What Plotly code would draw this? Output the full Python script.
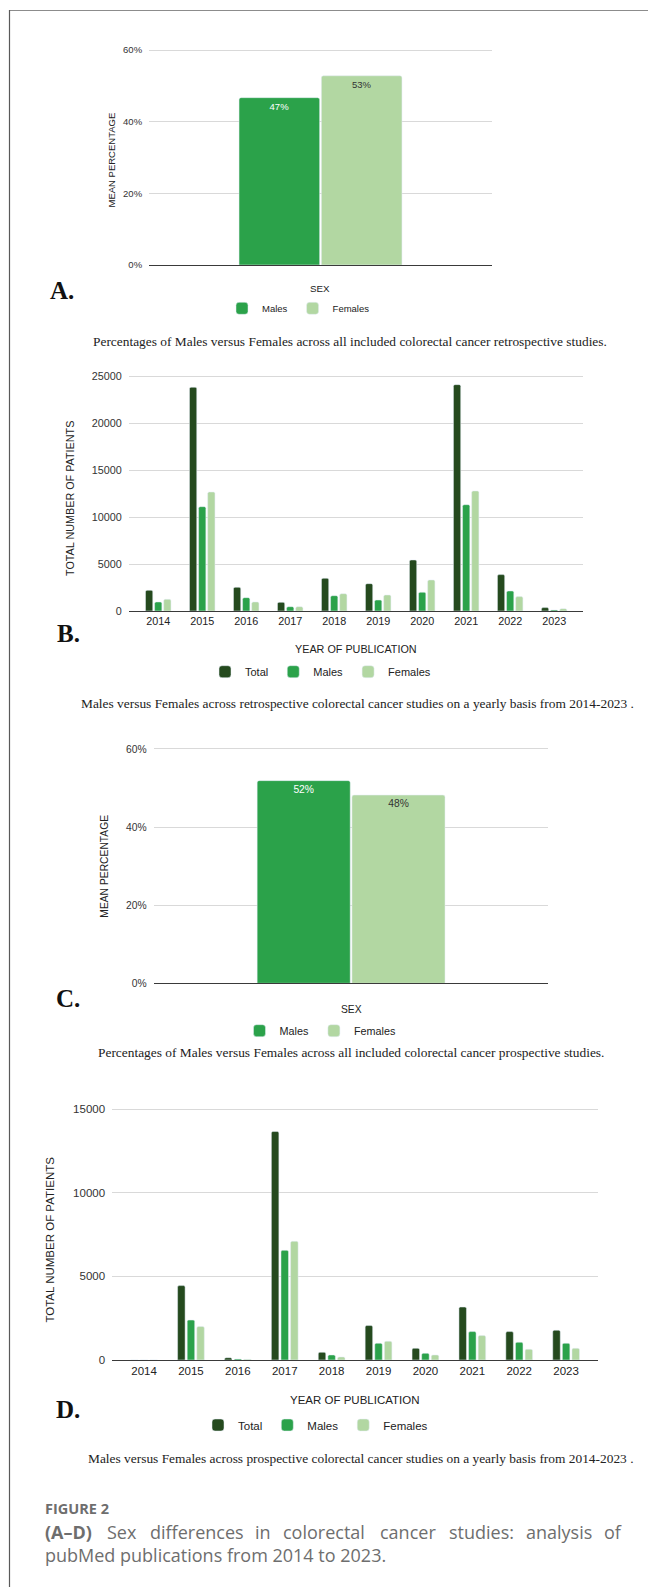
import plotly.graph_objects as go

W, H = 648, 1587

# ---------------- data ----------------
sex_label = ["SEX"]
retro_pct_males = [46.7]
retro_pct_females = [52.8]

years = ["2014", "2015", "2016", "2017", "2018", "2019", "2020", "2021", "2022", "2023"]
retro_total = [2200, 23800, 2520, 920, 3480, 2910, 5430, 24080, 3870, 360]
retro_males = [960, 11100, 1420, 460, 1630, 1170, 1990, 11310, 2130, 110]
retro_females = [1240, 12660, 960, 460, 1840, 1700, 3300, 12770, 1530, 250]

pro_pct_males = [51.9]
pro_pct_females = [48.2]

pro_total = [0, 4450, 140, 13670, 460, 2060, 700, 3170, 1700, 1780]
pro_males = [0, 2390, 60, 6560, 300, 1000, 400, 1700, 1060, 1000]
pro_females = [0, 2000, 40, 7100, 180, 1120, 300, 1460, 640, 700]

pct_ticks = [0, 20, 40, 60]
pct_ticktext = ["0%", "20%", "40%", "60%"]

C_TOTAL = "#254a1e"
C_MALE = "#2ba24a"
C_FEMALE = "#b2d7a2"
SANS = "Liberation Sans, Arial, sans-serif"
SERIF = "Liberation Serif, Times New Roman, serif"


def X(px):
    return px / W


def Y(py):
    return 1 - py / H


def top_px(p0, p1, v1, rt):
    # pixel of range top so that value v1 lands on pixel p1
    return p0 - (p0 - p1) * rt / v1


fig = go.Figure()

# ---------------- Panel A ----------------
fig.add_trace(go.Bar(x=sex_label, y=retro_pct_males, name="Males", marker=dict(color=C_MALE, cornerradius=2),
                     width=0.235, offset=-0.2375, texttemplate="%{y:.0f}%", textposition="inside",
                     insidetextanchor="end", textangle=0, constraintext="none",
                     textfont=dict(family=SANS, size=9.5, color="#ffffff"),
                     xaxis="x", yaxis="y", legend="legend"))
fig.add_trace(go.Bar(x=sex_label, y=retro_pct_females, name="Females", marker=dict(color=C_FEMALE, cornerradius=2),
                     width=0.235, offset=0.0025, texttemplate="%{y:.0f}%", textposition="inside",
                     insidetextanchor="end", textangle=0, constraintext="none",
                     textfont=dict(family=SANS, size=9.5, color="#333333"),
                     xaxis="x", yaxis="y", legend="legend"))

# ---------------- Panel B ----------------
for name, vals, col, off in [("Total", retro_total, C_TOTAL, -0.29),
                             ("Males", retro_males, C_MALE, -0.083),
                             ("Females", retro_females, C_FEMALE, 0.124)]:
    fig.add_trace(go.Bar(x=years, y=vals, name=name, marker=dict(color=col, cornerradius=1.5),
                         width=0.165, offset=off, xaxis="x2", yaxis="y2", legend="legend2"))

# ---------------- Panel C ----------------
fig.add_trace(go.Bar(x=sex_label, y=pro_pct_males, name="Males", marker=dict(color=C_MALE, cornerradius=2),
                     width=0.236, offset=-0.2376, texttemplate="%{y:.0f}%", textposition="inside",
                     insidetextanchor="end", textangle=0, constraintext="none",
                     textfont=dict(family=SANS, size=10.3, color="#ffffff"),
                     xaxis="x3", yaxis="y3", legend="legend3"))
fig.add_trace(go.Bar(x=sex_label, y=pro_pct_females, name="Females", marker=dict(color=C_FEMALE, cornerradius=2),
                     width=0.236, offset=0.0028, texttemplate="%{y:.0f}%", textposition="inside",
                     insidetextanchor="end", textangle=0, constraintext="none",
                     textfont=dict(family=SANS, size=10.3, color="#333333"),
                     xaxis="x3", yaxis="y3", legend="legend3"))

# ---------------- Panel D ----------------
for name, vals, col, off in [("Total", pro_total, C_TOTAL, -0.285),
                             ("Males", pro_males, C_MALE, -0.08),
                             ("Females", pro_females, C_FEMALE, 0.125)]:
    fig.add_trace(go.Bar(x=years, y=vals, name=name, marker=dict(color=col, cornerradius=1.5),
                         width=0.16, offset=off, xaxis="x4", yaxis="y4", legend="legend4"))


def xax(domain, rng, fs, showlabels, anchor):
    return dict(domain=domain, range=rng, type="category", showgrid=False, zeroline=False,
                showline=True, linecolor="#3a3a3a", linewidth=1.4, ticks="", anchor=anchor,
                showticklabels=showlabels, tickfont=dict(family=SANS, size=fs, color="#222222"),
                fixedrange=True, automargin=False)


def yax(domain, rng, fs, anchor, **kw):
    d = dict(domain=domain, range=rng, showgrid=True, gridcolor="#d9d9d9", gridwidth=1,
             zeroline=False, showline=False, ticks="outside", ticklen=4, tickcolor="rgba(0,0,0,0)",
             tickfont=dict(family=SANS, size=fs, color="#333333"), fixedrange=True,
             anchor=anchor, automargin=False)
    d.update(kw)
    return d


A_top = top_px(265, 50, 60, 60.6)
B_top = top_px(611, 376, 25000, 25250)
C_top = top_px(983.3, 749, 60, 60.6)
D_top = top_px(1360, 1109.3, 15000, 15150)

fig.update_layout(
    width=W, height=H, margin=dict(l=0, r=0, t=0, b=0),
    paper_bgcolor="white", plot_bgcolor="white",
    barmode="group",
    xaxis=xax([X(149), X(492)], [-0.5, 0.5], 9.5, False, "y"),
    yaxis=yax([Y(265), Y(A_top)], [0, 60.6], 9.5, "x", tickvals=pct_ticks, ticktext=pct_ticktext),
    xaxis2=xax([X(129), X(583)], [-0.665, 9.655], 10.8, True, "y2"),
    yaxis2=yax([Y(611), Y(B_top)], [0, 25250], 10.8, "x2", dtick=5000, tickformat="d"),
    xaxis3=xax([X(153.7), X(548)], [-0.5, 0.5], 10.3, False, "y3"),
    yaxis3=yax([Y(983.3), Y(C_top)], [0, 60.6], 10.3, "x3", tickvals=pct_ticks, ticktext=pct_ticktext),
    xaxis4=xax([X(112.4), X(598)], [-0.675, 9.68], 11.5, True, "y4"),
    yaxis4=yax([Y(1360), Y(D_top)], [0, 15150], 11.5, "x4", dtick=5000, tickformat="d"),
)


def leg(xpx, cy, fs):
    return dict(orientation="h", x=X(xpx), y=Y(cy), xanchor="left", yanchor="middle",
                font=dict(family=SANS, size=fs, color="#222222"), bgcolor="rgba(0,0,0,0)",
                itemwidth=30, tracegroupgap=0, itemclick=False, itemdoubleclick=False)


fig.update_layout(legend=leg(222, 308.3, 9.5), legend2=leg(205, 671.7, 11),
                  legend3=leg(239.5, 1030.7, 10.8), legend4=leg(198, 1425, 11.5))

ann = []


def text(s, px, py, size, family=SANS, color="#222222", xanchor="center", angle=0):
    ann.append(dict(text=s, x=X(px), y=Y(py), xref="paper", yref="paper",
                    xanchor=xanchor, yanchor="middle", showarrow=False, textangle=angle,
                    font=dict(family=family, size=size, color=color)))


# axis titles
text("MEAN PERCENTAGE", 110.5, 160, 9.5, angle=-90)
text("SEX", 320, 288.5, 9.8)
text("TOTAL NUMBER OF PATIENTS", 70, 499, 10.8, angle=-90)
text("YEAR OF PUBLICATION", 356, 649, 10.8)
text("MEAN PERCENTAGE", 105, 866.7, 10.3, angle=-90)
text("SEX", 351, 1009, 10.3)
text("TOTAL NUMBER OF PATIENTS", 49.6, 1240, 11.5, angle=-90)
text("YEAR OF PUBLICATION", 355, 1400.3, 11.5)

# panel letters
for lab, xp, yp in [("A.", 48, 290.5), ("B.", 55, 633), ("C.", 54, 998), ("D.", 54, 1409)]:
    text("<b>%s</b>" % lab, xp, yp, 25, family=SERIF, color="#111111", xanchor="left")

# captions
CAP = 13.4
text("Percentages of Males versus Females across all included colorectal cancer retrospective studies.",
     91, 341.7, CAP, family=SERIF, xanchor="left")
text("Males versus Females across retrospective colorectal cancer studies on a yearly basis from 2014-2023 .",
     78.5, 703.3, CAP, family=SERIF, xanchor="left")
text("Percentages of Males versus Females across all included colorectal cancer prospective studies.",
     96, 1052.7, CAP, family=SERIF, xanchor="left")
text("Males versus Females across prospective colorectal cancer studies on a yearly basis from 2014-2023 .",
     85.5, 1458.3, CAP, family=SERIF, xanchor="left")

# figure caption
GRAY = "#6e6e6e"
OPEN = "Open Sans, Noto Sans, sans-serif"
text("<b>FIGURE 2</b>", 43.4, 1508, 14.5, family=OPEN, color=GRAY, xanchor="left")
words = [("<b>(A–D)</b>", 43.4), ("Sex", 105.4), ("differences", 147.6), ("in", 253), ("colorectal", 281.3),
         ("cancer", 377.5), ("studies:", 446.8), ("analysis", 524.3), ("of", 601.8)]
for w, xp in words:
    text(w, xp, 1531.7, 18, family=OPEN, color=GRAY, xanchor="left")
text("pubMed publications from 2014 to 2023.", 43.4, 1555, 18, family=OPEN, color=GRAY, xanchor="left")

fig.update_layout(annotations=ann)

# frame
fig.update_layout(shapes=[
    dict(type="line", xref="paper", yref="paper", x0=X(9.5), x1=1, y0=Y(10.5), y1=Y(10.5),
         line=dict(color="#8c8c8c", width=1.2)),
    dict(type="line", xref="paper", yref="paper", x0=X(9.5), x1=X(9.5), y0=Y(10), y1=0,
         line=dict(color="#5a5a5a", width=1.2)),
])

fig.write_html("out.html")
